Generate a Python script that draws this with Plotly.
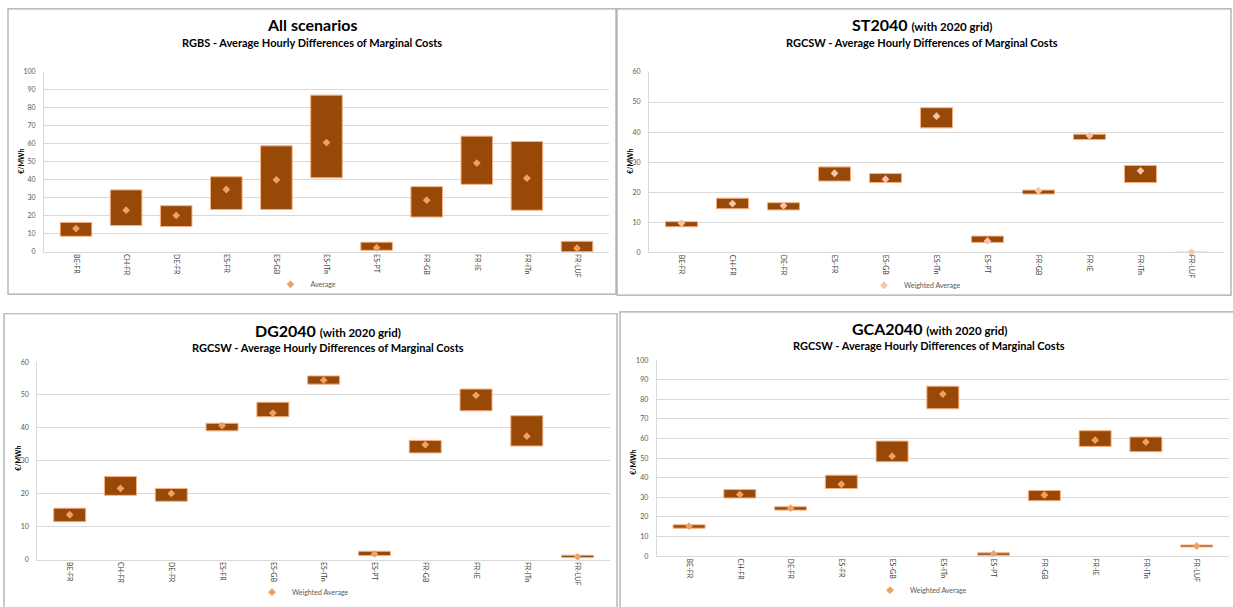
import plotly.graph_objects as go

W, H = 1233, 607

categories = ["BE-FR", "CH-FR", "DE-FR", "ES-FR", "ES-GB", "ES-ITn",
              "ES-PT", "FR-GB", "FR-IE", "FR-ITn", "FR-LUF"]

# All scenarios (RGBS): min / max range and average, €/MWh
all_lo = [8.6, 14.6, 14.0, 23.5, 23.5, 41.1, 0.8, 19.3, 37.5, 23.1, 0.0]
all_hi = [16.3, 34.4, 25.6, 41.7, 58.9, 87.1, 5.3, 36.2, 64.3, 61.3, 5.8]
all_avg = [12.9, 23.1, 20.2, 34.6, 40.0, 60.7, 2.2, 28.7, 49.3, 40.9, 2.0]

# ST2040 (with 2020 grid)
st_lo = [8.5, 14.5, 14.1, 23.7, 23.2, 41.4, 3.3, 19.4, 37.5, 23.2, 0.0]
st_hi = [10.2, 18.0, 16.5, 28.4, 26.2, 48.1, 5.4, 20.7, 39.3, 28.9, 0.0]
st_avg = [9.7, 16.2, 15.5, 26.3, 24.3, 45.3, 3.8, 20.5, 38.8, 27.1, 0.0]

# DG2040 (with 2020 grid)
dg_lo = [11.5, 19.5, 17.7, 39.1, 43.4, 53.3, 1.2, 32.4, 45.2, 34.5, 0.6]
dg_hi = [15.6, 25.2, 21.6, 41.4, 47.8, 55.8, 2.5, 36.2, 51.8, 43.7, 1.3]
dg_avg = [13.6, 21.6, 20.1, 40.7, 44.5, 54.5, 1.7, 34.9, 49.9, 37.5, 0.8]

# GCA2040 (with 2020 grid)
gca_lo = [14.3, 29.7, 23.5, 34.5, 48.2, 75.2, 0.5, 28.3, 56.0, 53.3, 4.7]
gca_hi = [16.0, 34.0, 25.2, 41.3, 58.7, 86.7, 1.7, 33.5, 64.0, 60.8, 5.7]
gca_avg = [15.3, 31.5, 24.5, 36.7, 51.0, 82.7, 1.2, 31.2, 59.2, 58.2, 5.2]

BAR = "#984807"
EDGE = "#F4B183"
GRID = "#D9D9D9"
FONT = "Lato"


def px(x):
    return x / W


def py(y):
    return 1 - y / H


SUFFIX = "<span style='font-size:11.5px'><b>(with 2020 grid)</b></span>"

panels = [
    dict(title="<b>All scenarios</b>",
         sub="<b>RGBS - Average Hourly Differences of Marginal Costs</b>",
         lo=all_lo, hi=all_hi, avg=all_avg, ymax=100, leg="Average",
         mcol="#F0A060",
         plot=(44, 609, 68.3, 251.7), border=(8, 616, 4, 295),
         title_xy=(312, 20), sub_xy=(312, 38), ytitle_xy=(21, 160),
         leg_xy=(306, 285)),
    dict(title="<b>ST2040 </b>" + SUFFIX,
         sub="<b>RGCSW - Average Hourly Differences of Marginal Costs</b>",
         lo=st_lo, hi=st_hi, avg=st_avg, ymax=60, leg="Weighted Average",
         mcol="#F6C3A6",
         plot=(649, 1224, 68.3, 252.3), border=(617, 1231, 4, 296),
         title_xy=(922, 20), sub_xy=(922, 38), ytitle_xy=(630, 160),
         leg_xy=(915, 286)),
    dict(title="<b>DG2040 </b>" + SUFFIX,
         sub="<b>RGCSW - Average Hourly Differences of Marginal Costs</b>",
         lo=dg_lo, hi=dg_hi, avg=dg_avg, ymax=60, leg="Weighted Average",
         mcol="#F0A060",
         plot=(37.3, 610, 364.3, 565.7), border=(4, 617, 315, 640),
         title_xy=(328, 332), sub_xy=(328, 349), ytitle_xy=(18, 463),
         leg_xy=(303, 599)),
    dict(title="<b>GCA2040 </b>" + SUFFIX,
         sub="<b>RGCSW - Average Hourly Differences of Marginal Costs</b>",
         lo=gca_lo, hi=gca_hi, avg=gca_avg, ymax=100, leg="Weighted Average",
         mcol="#F0A060",
         plot=(656.7, 1229, 362.3, 562.3), border=(620, 1240, 313, 640),
         title_xy=(929, 330), sub_xy=(929, 347), ytitle_xy=(633, 467),
         leg_xy=(921, 597)),
]

fig = go.Figure()
annotations = []
shapes = []
layout = {}

for i, p in enumerate(panels):
    n = "" if i == 0 else str(i + 1)
    xa, ya = "x" + n, "y" + n
    leg = "legend" + n
    heights = [h - l for h, l in zip(p["hi"], p["lo"])]

    fig.add_trace(go.Bar(
        x=categories, y=heights, base=p["lo"], xaxis=xa, yaxis=ya,
        width=0.63, marker=dict(color=BAR, line=dict(color=EDGE, width=1)),
        showlegend=False, hoverinfo="skip"))
    fig.add_trace(go.Scatter(
        x=categories, y=p["avg"], xaxis=xa, yaxis=ya, mode="markers",
        name=p["leg"], legend=leg, cliponaxis=False,
        marker=dict(symbol="diamond", size=6, color=p["mcol"])))

    x0, x1, y0, y1 = p["plot"]
    layout["xaxis" + n] = dict(
        domain=[px(x0), px(x1)], anchor=ya, type="category",
        tickangle=90, tickfont=dict(size=7, color="#404040", family=FONT),
        showline=True, linecolor=GRID, linewidth=1, ticks="",
        showgrid=False, fixedrange=True)
    layout["yaxis" + n] = dict(
        domain=[py(y1), py(y0)], anchor=xa, range=[0, p["ymax"]],
        dtick=10, tickfont=dict(size=7, color="#595959", family=FONT),
        showgrid=True, gridcolor=GRID, gridwidth=1, zeroline=False,
        showline=True, linecolor=GRID, linewidth=1, ticks="",
        ticklabelstandoff=6, fixedrange=True)

    lx, ly = p["leg_xy"]
    layout[leg] = dict(
        x=px(lx), y=py(ly), xanchor="center", yanchor="middle",
        orientation="h", bgcolor="rgba(0,0,0,0)",
        font=dict(size=7, color="#595959", family=FONT),
        itemwidth=30, tracegroupgap=0)

    bx0, bx1, by0, by1 = p["border"]
    shapes.append(dict(type="rect", xref="paper", yref="paper",
                       x0=px(bx0), x1=px(bx1), y0=py(by1), y1=py(by0),
                       line=dict(color="#A6A6A6", width=1.2),
                       fillcolor="rgba(0,0,0,0)", layer="below"))

    tx, ty = p["title_xy"]
    annotations.append(dict(text=p["title"], x=px(tx), y=py(ty),
                            xref="paper", yref="paper", showarrow=False,
                            xanchor="center", yanchor="middle",
                            font=dict(size=16, color="#000000", family=FONT)))
    sx, sy = p["sub_xy"]
    annotations.append(dict(text=p["sub"], x=px(sx), y=py(sy),
                            xref="paper", yref="paper", showarrow=False,
                            xanchor="center", yanchor="middle",
                            font=dict(size=11, color="#000000", family=FONT)))
    ax, ay = p["ytitle_xy"]
    annotations.append(dict(text="<b>€/MWh</b>", x=px(ax), y=py(ay),
                            xref="paper", yref="paper", showarrow=False,
                            textangle=-90, xanchor="center", yanchor="middle",
                            font=dict(size=7, color="#000000", family=FONT)))

fig.update_layout(
    width=W, height=H, margin=dict(l=0, r=0, t=0, b=0),
    paper_bgcolor="white", plot_bgcolor="white",
    font=dict(family=FONT), barmode="overlay",
    annotations=annotations, shapes=shapes, **layout)

fig.write_html("out.html")
